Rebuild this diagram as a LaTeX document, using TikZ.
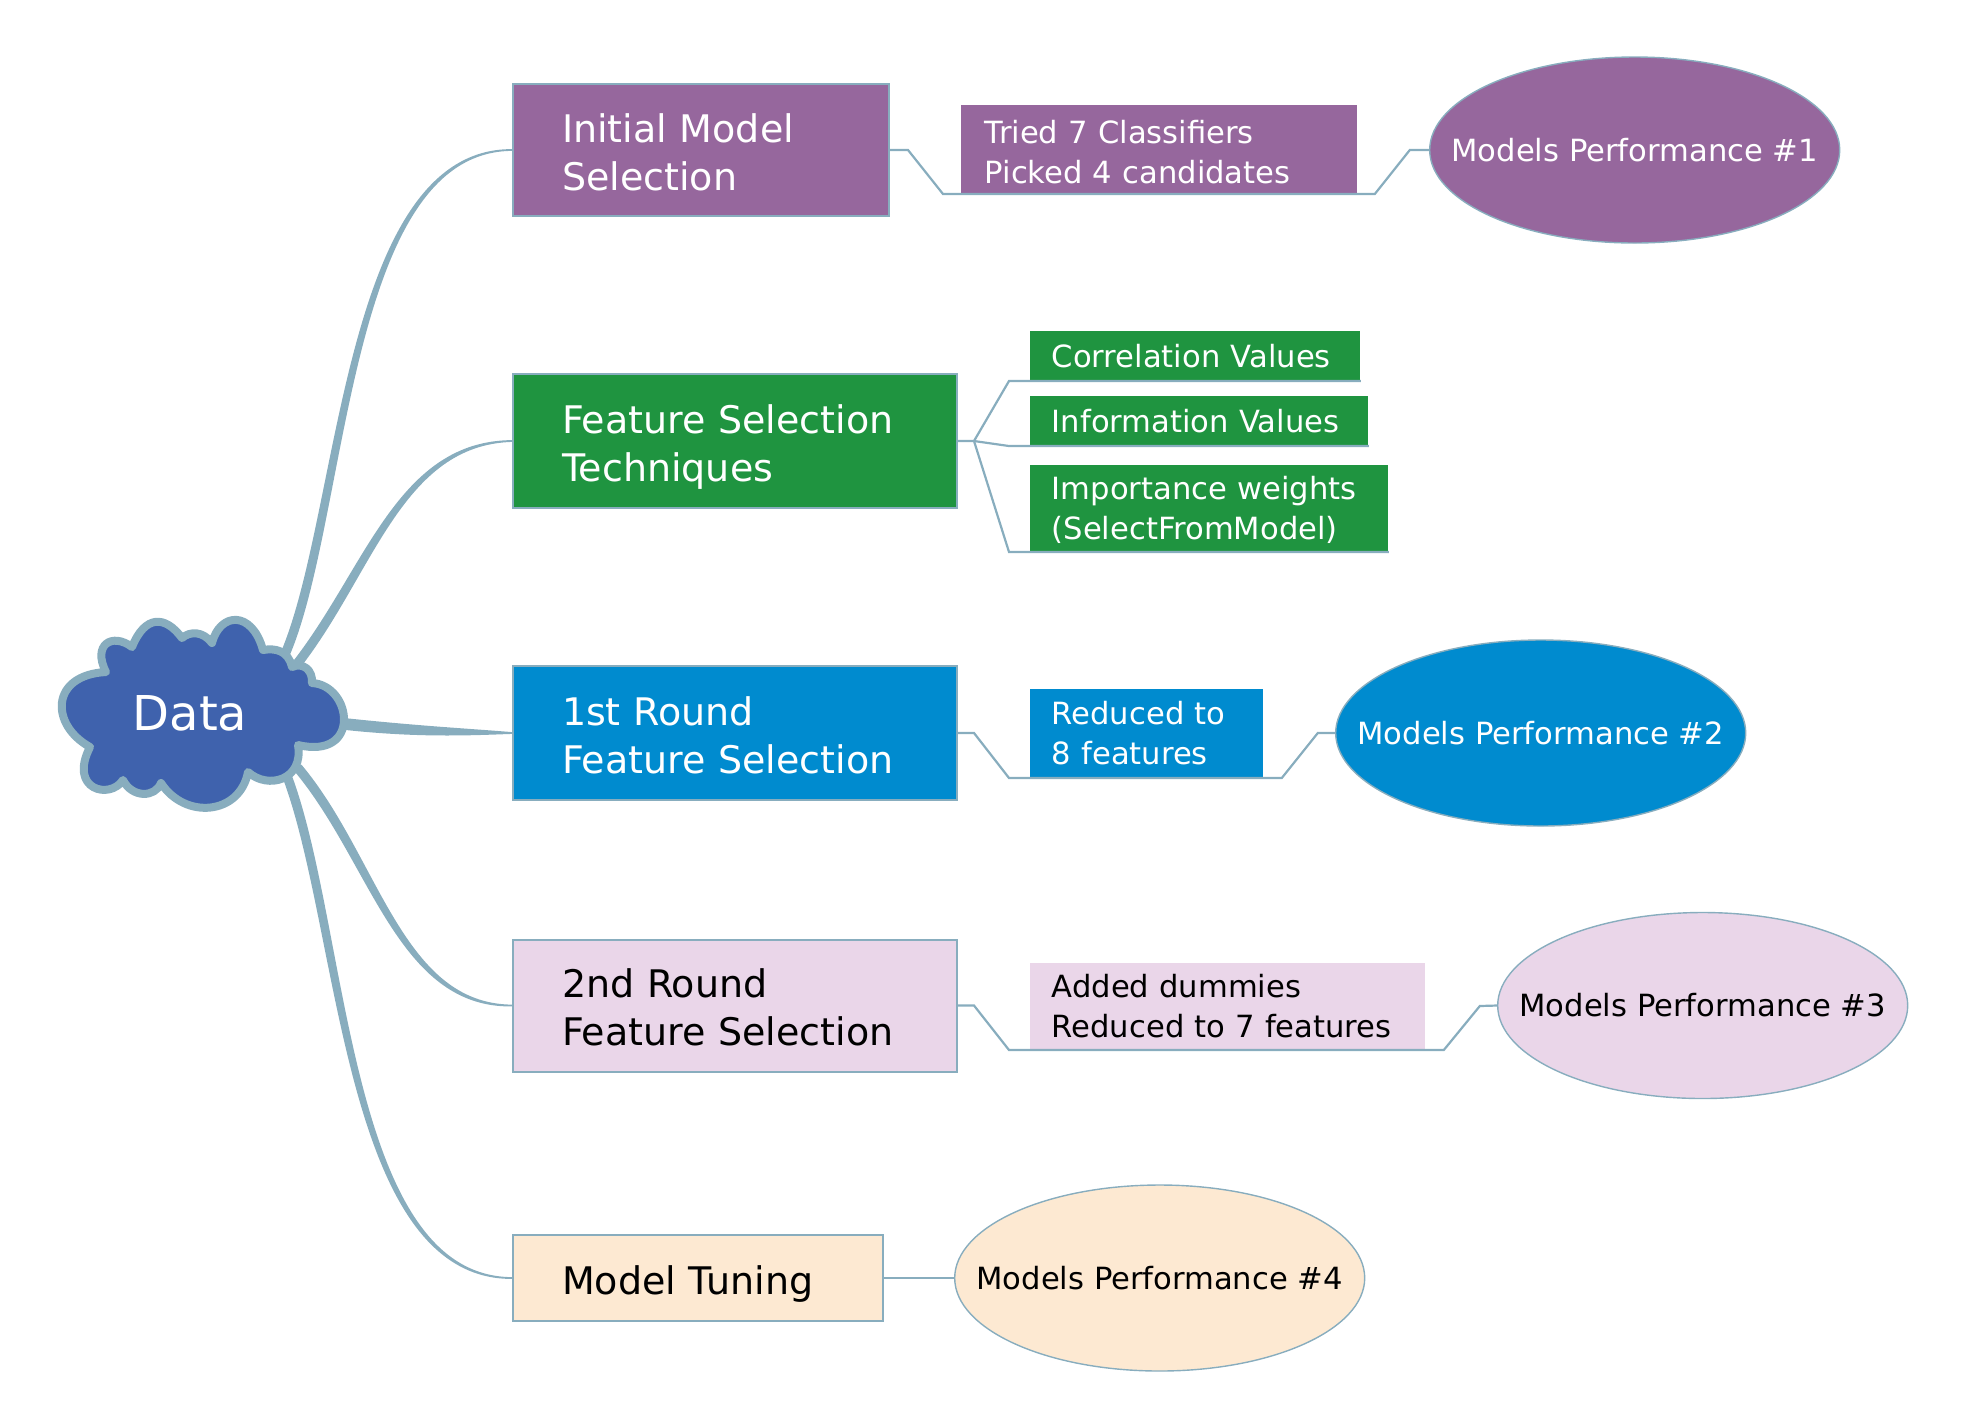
\documentclass[tikz,border=0pt]{standalone}
\usepackage{fontspec}
\setmainfont{DejaVu Sans}
\usetikzlibrary{arrows.meta,positioning,calc,shapes.geometric}
\definecolor{DMLine}{HTML}{88ADBE}
\definecolor{DMCloud}{HTML}{3F62AD}
\definecolor{DMPurple}{HTML}{96679D}
\definecolor{DMGreen}{HTML}{1F9440}
\definecolor{DMBlue}{HTML}{008BCF}
\definecolor{DMPink}{HTML}{EAD6E9}
\definecolor{DMPeach}{HTML}{FDE9D2}
\newcommand{\perftext}[1]{\makebox[0pt]{Models Performance \##1}}
% start, two controls, target box, half width at the start
\newcommand{\branchto}[5]{
  \path[branch] ($(#1)+(#5)$) .. controls ($(#2)+(#5)$) and ($(#3)+0.5*(#5)$) .. (#4.west)
    .. controls ($(#3)-0.5*(#5)$) and ($(#2)-(#5)$) .. ($(#1)-(#5)$) -- cycle;
}

\begin{document}
\begin{tikzpicture}[
    x=0.5pt, y=-0.5pt,
    mainbox/.style={draw=DMLine, line width=1pt, anchor=north west, minimum height=66pt, inner xsep=24.5pt, inner ysep=0pt, align=left, font=\fontsize{19}{24}\selectfont,
      execute at begin node={\rule{0pt}{21pt}}, execute at end node={\rule[-5pt]{0pt}{5pt}}},
    infobox/.style={anchor=south west, inner xsep=10.7pt, inner ysep=0pt, align=left, font=\fontsize{15.3}{20}\selectfont,
      execute at begin node={\rule{0pt}{16.3pt}}, execute at end node={\rule[-4.5pt]{0pt}{4.5pt}}},
    perf/.style={ellipse, draw=DMLine, line width=0.7pt, minimum width=205pt, minimum height=93pt, inner sep=0pt, font=\fontsize{15.3}{20}\selectfont},
    wire/.style={draw=DMLine, line width=1.1pt},
    branch/.style={draw=DMLine, fill=DMLine, line width=0.9pt, line join=round},
    cloudline/.style={draw=DMLine, fill=DMCloud, line width=4pt, line join=round}
  ]
    \useasboundingbox (0,0) rectangle (1964,1426);

    % main column
    \node[mainbox, fill=DMPurple, text=white, text width=139pt] (init) at (512,83) {Initial Model\\Selection};
    \node[mainbox, fill=DMGreen, text=white, text width=173pt, minimum height=67pt, below=78pt of init.south west, anchor=north west] (feat) {Feature Selection\\Techniques};
    \node[mainbox, fill=DMBlue, text=white, text width=173pt, minimum height=67pt, below=78pt of feat.south west, anchor=north west] (first) {1st Round\\Feature Selection};
    \node[mainbox, fill=DMPink, text width=173pt, below=68.75pt of first.south west, anchor=north west] (second) {2nd Round\\Feature Selection};
    \node[mainbox, fill=DMPeach, text width=136pt, minimum height=43pt, below=80.75pt of second.south west, anchor=north west] (tuning) {Model Tuning};

    % details
    \node[infobox, fill=DMPurple, text=white, inner xsep=11.7pt, text width=174.6pt, minimum height=44.5pt, execute at begin node={\rule{0pt}{18.5pt}}] (tried) at (961,194) {Tried 7 Classifiers\\Picked 4 candidates};
    \node[infobox, fill=DMGreen, text=white, text width=143.6pt, minimum height=25pt] (corr) at (1030,381) {Correlation Values};
    \node[infobox, fill=DMGreen, text=white, text width=147.6pt, minimum height=25pt] (info) at (1030,446) {Information Values};
    \node[infobox, fill=DMGreen, text=white, text width=157.6pt, minimum height=43.5pt] (weights) at (1030,552) {Importance weights\\(SelectFromModel)};
    \node[infobox, fill=DMBlue, text=white, text width=95.1pt, minimum height=44.5pt] (reduced) at (1030,778) {Reduced to\\8 features};
    \node[infobox, fill=DMPink, text width=176.1pt, minimum height=43.5pt] (added) at (1030,1050) {Added dummies\\Reduced to 7 features};

    % performance ellipses
    \node[perf, fill=DMPurple, text=white, right=269.5pt of init] (perfa) {\perftext{1}};
    \node[perf, fill=DMBlue, text=white, right=188.5pt of first] (perfb) {\perftext{2}};
    \node[perf, fill=DMPink, right=269.5pt of second] (perfc) {\perftext{3}};
    \node[perf, fill=DMPeach, right=35pt of tuning] (perfd) {\perftext{4}};

    \draw[wire] (init.east) -- ++(18,0) -- ($(tried.south west)+(-18,0)$) -- ($(tried.south east)+(17,0)$) -- ++(35,-44) -- (perfa.west);
    \draw[wire] (feat.east) -- ++(16,0) coordinate (fork) -- ($(corr.south west)+(-21,0)$) -- (corr.south east);
    \draw[wire] (fork) -- ($(info.south west)+(-21,0)$) -- (info.south east);
    \draw[wire] (fork) -- ($(weights.south west)+(-21,0)$) -- (weights.south east);
    \draw[wire] (first.east) -- ++(16,0) -- ($(reduced.south west)+(-21,0)$) -- ($(reduced.south east)+(18,0)$) -- ++(36,-45) -- (perfb.west);
    \draw[wire] (second.east) -- ++(16,0) -- ($(added.south west)+(-21,0)$) -- ($(added.south east)+(18,0)$) -- ++(36,-44) -- (perfc.west);
    \draw[wire] (tuning.east) -- (perfd.west);

    % cloud exits
    \coordinate (exa) at (286,652);
    \coordinate (exb) at (297,664);
    \coordinate (exc) at (345,724);
    \coordinate (exd) at (298,768);
    \coordinate (exe) at (287,776);

    \branchto{exa}{345,510}{345,150}{init}{3.5,1.5}
    \branchto{exb}{370,570}{400,443}{feat}{3,2.5}
    \branchto{exc}{420,732}{470,732}{first}{0,5}
    \branchto{exd}{375,860}{400,1006}{second}{3,-2.5}
    \branchto{exe}{345,930}{345,1278}{tuning}{3.5,-1.5}

    \draw[cloudline] (106,672) .. controls (92,645) and (112,632) .. (132,647)
      .. controls (145,615) and (165,615) .. (182,638)
      .. controls (190,631) and (203,631) .. (212,643)
      .. controls (220,612) and (252,610) .. (263,650)
      .. controls (275,648) and (288,650) .. (292,667)
      .. controls (303,662) and (313,670) .. (312,683)
      .. controls (352,685) and (362,760) .. (298,745)
      .. controls (304,780) and (268,790) .. (248,772)
      .. controls (240,815) and (185,820) .. (161,783)
      .. controls (155,798) and (132,798) .. (123,780)
      .. controls (110,800) and (68,790) .. (90,747)
      .. controls (50,725) and (50,675) .. (106,672) -- cycle;
    \node[text=white, font=\fontsize{24}{28}\selectfont] (data) at (190,713) {Data};
  \end{tikzpicture}
\end{document}
